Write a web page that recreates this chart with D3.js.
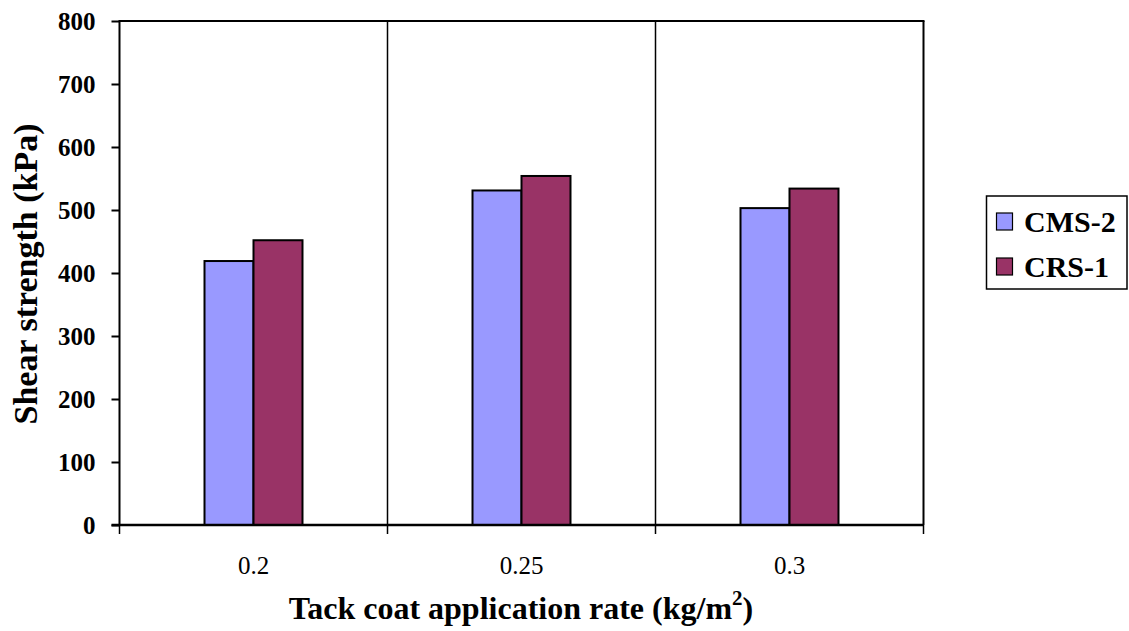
<!DOCTYPE html>
<html><head><meta charset="utf-8">
<script src="https://cdn.jsdelivr.net/npm/d3@7"></script>
<style>body{margin:0;background:#fff}</style>
</head><body>
<svg id="c" width="1129" height="631"></svg>
<script>
const categories = ["0.2", "0.25", "0.3"];
const seriesNames = ["CMS-2", "CRS-1"];
const cms2 = [419, 531, 503];
const crs1 = [452, 554, 534];
const yTicks = [0, 100, 200, 300, 400, 500, 600, 700, 800];
const colors = ["#9999ff", "#993366"];

const svg = d3.select("#c");
const L = 119.5, R = 923.5, T = 21, B = 525;
const x = d3.scaleBand().domain(categories).range([L, R]).paddingInner(0).paddingOuter(0);
const inner = d3.scaleBand().domain(seriesNames).range([0, x.bandwidth()]).paddingInner(0).paddingOuter(1.735);
const y = d3.scaleLinear().domain([0, 800]).range([B, T]);
const font = "Liberation Serif, Times New Roman, serif";

// category separators
categories.slice(1).forEach(c => {
  svg.append("line").attr("x1", x(c)).attr("x2", x(c)).attr("y1", T).attr("y2", B)
    .attr("stroke", "#000").attr("stroke-width", 1.5);
});
// frame
svg.append("line").attr("x1", L).attr("x2", R + 1).attr("y1", T).attr("y2", T).attr("stroke", "#000").attr("stroke-width", 2);
svg.append("line").attr("x1", R).attr("x2", R).attr("y1", T).attr("y2", B).attr("stroke", "#000").attr("stroke-width", 2);

// bars
const data = [cms2, crs1];
seriesNames.forEach((s, si) => {
  svg.append("g").selectAll("rect").data(categories).join("rect")
    .attr("x", c => x(c) + inner(s))
    .attr("width", inner.bandwidth())
    .attr("y", (c, i) => y(data[si][i]))
    .attr("height", (c, i) => B - y(data[si][i]))
    .attr("fill", colors[si]).attr("stroke", "#000").attr("stroke-width", 2);
});

// y axis
const ya = svg.append("g").attr("transform", `translate(${L},0)`)
  .call(d3.axisLeft(y).tickValues(yTicks).tickSize(8).tickPadding(16).tickFormat(d3.format("d")));
ya.select(".domain").attr("stroke-width", 2).attr("d", `M0,${T - 1}V${B}`);
ya.selectAll(".tick line").attr("stroke-width", 2);
ya.selectAll("text").style("font-family", font).attr("font-weight", "bold").attr("font-size", 25).attr("fill", "#000");

// x axis
const xa = svg.append("g").attr("transform", `translate(0,${B})`)
  .call(d3.axisBottom(x).tickSize(0).tickPadding(31));
xa.select(".domain").attr("stroke-width", 2.5).attr("d", `M${L - 8},0H${R}`);
xa.selectAll("text").style("font-family", font).attr("font-size", 25).attr("fill", "#000");
// x tick marks at category boundaries
[L, x("0.25"), x("0.3"), R].forEach(px => {
  svg.append("line").attr("x1", px).attr("x2", px).attr("y1", B).attr("y2", B + 9).attr("stroke", "#000").attr("stroke-width", 1.5);
});

// axis titles
svg.append("text").attr("transform", `translate(37,274) rotate(-90)`)
  .attr("text-anchor", "middle").style("font-family", font).attr("font-weight", "bold").attr("font-size", 34)
  .text("Shear strength (kPa)");
const xt = svg.append("text").attr("x", 521).attr("y", 619)
  .attr("text-anchor", "middle").style("font-family", font).attr("font-weight", "bold").attr("font-size", 32);
xt.append("tspan").text("Tack coat application rate (kg/m");
xt.append("tspan").attr("font-size", 21).attr("dy", -14).text("2");
xt.append("tspan").attr("dy", 14).text(")");

// legend
const lg = svg.append("g");
lg.append("rect").attr("x", 986.5).attr("y", 196).attr("width", 140.5).attr("height", 93)
  .attr("fill", "#fff").attr("stroke", "#000").attr("stroke-width", 1.5);
seriesNames.forEach((s, i) => {
  const base = 232 + i * 45;
  lg.append("rect").attr("x", 996.5).attr("y", base - 19).attr("width", 16).attr("height", 17)
    .attr("fill", colors[i]).attr("stroke", "#000").attr("stroke-width", 1.2);
  lg.append("text").attr("x", 1024).attr("y", base).style("font-family", font).attr("font-weight", "bold")
    .attr("font-size", 30).text(s);
});
</script>
</body></html>
